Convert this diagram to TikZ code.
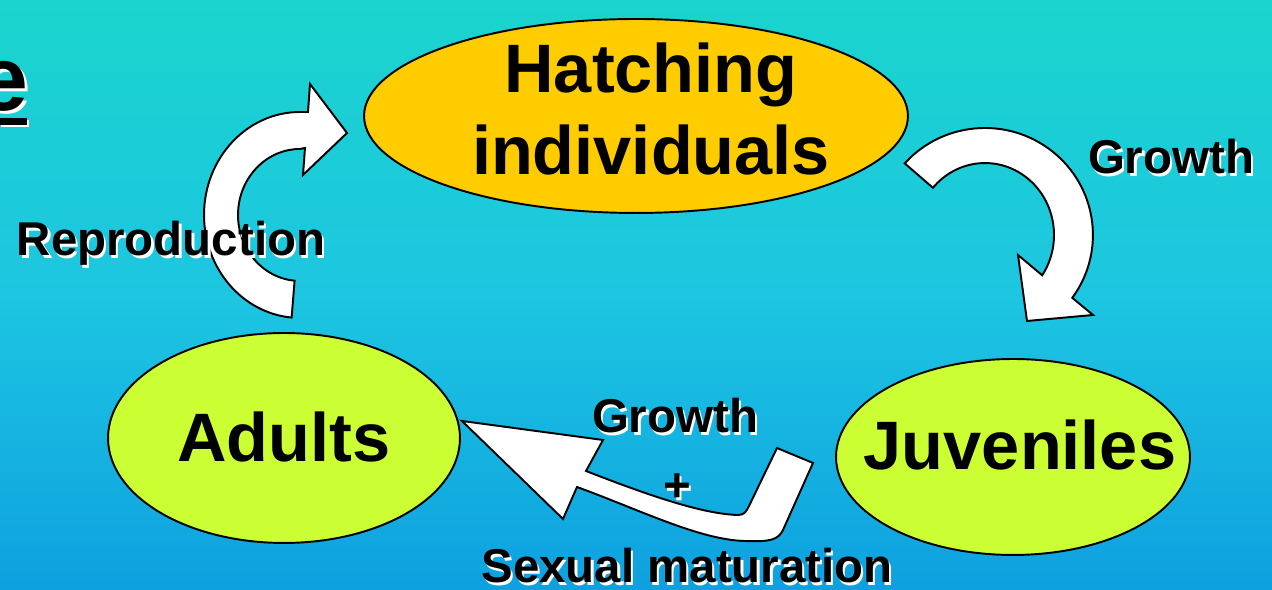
\documentclass[tikz,border=0pt]{standalone}
\usepackage{fontspec}
\setmainfont{Liberation Sans}
\usepackage{tikz}
\usetikzlibrary{positioning,shapes.geometric}
\definecolor{seatop}{RGB}{26,212,205}
\definecolor{seamid}{RGB}{29,198,225}
\definecolor{seabot}{RGB}{14,160,224}
\definecolor{hatchyellow}{RGB}{255,204,0}
\definecolor{stagegreen}{RGB}{204,255,51}
% black text with a white drop shadow
\newcommand{\shtext}[1]{\leavevmode\rlap{\kern0.045cm\raisebox{-0.045cm}{\textcolor{white}{#1}}}#1}
\tikzset{%
	stage/.style    = {draw, ellipse, line width=1.1pt, inner sep=0pt}, % life stage
	stagetxt/.style = {inner sep=0pt, font=\fontsize{39}{47.2}\selectfont\bfseries, align=center},
	lbl/.style      = {inner sep=0pt, anchor=base, font=\fontsize{27}{32}\selectfont\bfseries}, % transition
	bigarrow/.style = {draw, fill=white, line width=1.1pt, line join=miter},
}
\begin{document}
\begin{tikzpicture}[x=0.02cm,y=0.02cm]
	\shade[top color=seatop, bottom color=seabot, middle color=seamid] (0,0) rectangle (1272,590);
	\useasboundingbox (0,0) rectangle (1272,590);
	
	% cut-off title
	\node [anchor=base east, inner sep=0pt, font=\fontsize{52}{60}\selectfont\bfseries] (title) at (29,479) {\shtext{e}};
	\fill[white] (1,463) rectangle (29,470);
	\fill (0,465) rectangle (27,472);
	
	\node [stage, fill=hatchyellow, minimum width=10.88cm, minimum height=3.88cm] (hatching) at (636,474) {};
	\node [stage, fill=stagegreen, minimum width=7.04cm, minimum height=4.2cm] (adults) at (284,152) {};
	\node [stage, fill=stagegreen, minimum width=7.08cm, minimum height=3.92cm] (juveniles) at (1013,133) {};
	
	\node [stagetxt] (hatchingtxt) at (651,481) {Hatching\\individuals};
	\node [stagetxt, anchor=base] (adultstxt) at (284,128) {Adults};
	\node [stagetxt, anchor=base] (juvenilestxt) at (1020,120) {Juveniles};
	
	% reproduction
	\draw[bigarrow] (308,478) -- (300,478) arc[start angle=90, end angle=265, x radius=1.92cm, y radius=2.06cm]
		-- (294.6,309.3) arc[start angle=265, end angle=90, x radius=1.24cm, y radius=1.32cm]
		-- (305,442) -- (303,415) -- (347,457) -- (310,506) -- cycle;
	% growth
	\draw[bigarrow] (904.7,426.6) arc[start angle=138, end angle=-36, x radius=2.16cm, y radius=2.14cm]
		-- (1093,275) -- (1027,269) -- (1018,335)
		-- (1042.2,314.7) arc[start angle=-34, end angle=139, x radius=1.38cm, y radius=1.44cm] -- cycle;
	% growth + maturation
	\draw[bigarrow] (462,169) -- (603,150) -- (586,119) .. controls (640,98) and (700,76) .. (738,75)
		.. controls (744,75) and (746,78) .. (749,84) -- (777,142) -- (813,127) -- (783,60)
		.. controls (778,50) and (770,48) .. (745,49) .. controls (700,50) and (640,80) .. (577,103)
		-- (563,71) -- cycle;
	
	\node [lbl] (reprolbl) at (171,334) {\shtext{Reproduction}};
	\node [lbl] (growthlbl) at (1171,416) {\shtext{Growth}};
	\node [lbl] (growthlbl2) at (675,157) {\shtext{Growth}};
	\node [lbl] (pluslbl) at (677,88) {\shtext{+}};
	\node [lbl] (sexlbl) at (687,7) {\shtext{Sexual maturation}};
\end{tikzpicture}
\end{document}
